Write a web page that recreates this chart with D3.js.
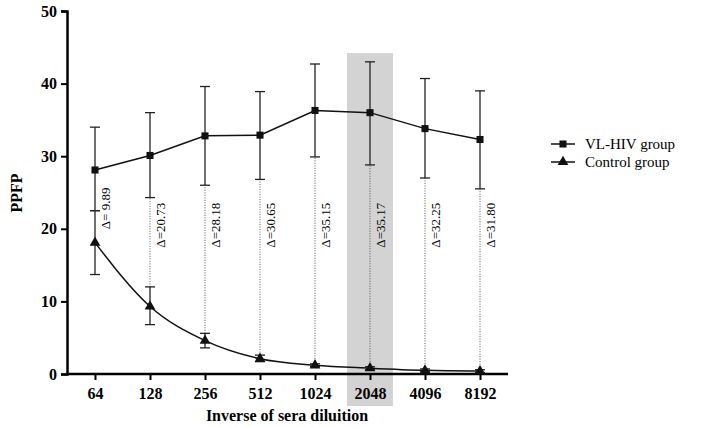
<!DOCTYPE html>
<html><head><meta charset="utf-8">
<script src="https://cdn.jsdelivr.net/npm/d3@7"></script>
<style>body{margin:0;background:#fff}text{font-family:"Liberation Serif",serif}</style>
</head><body><svg id="c" width="708" height="427"></svg>
<script>
const dilutions = ["64","128","256","512","1024","2048","4096","8192"];
const vlMean = [28.1, 30.1, 32.8, 32.9, 36.3, 36.0, 33.8, 32.3];
const vlLow  = [22.5, 24.3, 26.0, 26.8, 29.9, 28.8, 27.0, 25.5];
const vlHigh = [34.0, 36.0, 39.6, 38.9, 42.7, 43.0, 40.7, 39.0];
const ctMean = [18.1, 9.3, 4.6, 2.1, 1.2, 0.8, 0.5, 0.4];
const ctLow  = [13.7, 6.8, 3.6, 1.7, 1.0, 0.6, 0.3, 0.2];
const ctHigh = [22.5, 12.0, 5.6, 2.6, 1.4, 1.0, 0.7, 0.6];
const deltas = ["Δ= 9.89","Δ=20.73","Δ=28.18","Δ=30.65","Δ=35.15","Δ=35.17","Δ=32.25","Δ=31.80"];
const yTicks = [0,10,20,30,40,50];

const svg = d3.select("#c");
const x = d3.scalePoint().domain(dilutions).range([95, 480]);
const y = d3.scaleLinear().domain([0,50]).range([374, 11]);

// highlight band at 2048
svg.append("rect").attr("x", x("2048")-23).attr("width", 46)
  .attr("y", y(44.2)).attr("height", 406 - y(44.2)).attr("fill", "#d3d3d3");

// dotted connectors + delta labels
dilutions.forEach((d,i) => {
  svg.append("line").attr("x1", x(d)).attr("x2", x(d))
    .attr("y1", y(ctHigh[i])).attr("y2", y(vlLow[i]))
    .attr("stroke", "#555").attr("stroke-width", 1).attr("stroke-dasharray", "1,1.5");
  svg.append("text").attr("transform", `translate(${x(d)+15},${y(i === 0 ? 22.8 : 20.5)}) rotate(-90)`)
    .attr("text-anchor", "middle").attr("font-size", 13).text(deltas[i]);
});

// axes
const gy = svg.append("g").attr("transform", "translate(67,0)")
  .call(d3.axisLeft(y).tickValues(yTicks).tickSize(6).tickPadding(4));
const gx = svg.append("g").attr("transform", "translate(0,374)")
  .call(d3.axisBottom(x).tickSize(6).tickPadding(8));
gx.select(".domain").attr("d", "M67,0H508");
[gx, gy].forEach(g => {
  g.select(".domain").attr("stroke-width", 2.5);
  g.selectAll(".tick line").attr("stroke-width", 2);
  g.selectAll("text").attr("font-size", 16).attr("font-weight", "bold").attr("font-family", "Liberation Serif");
});

svg.append("text").attr("transform", "translate(22,193) rotate(-90)").attr("text-anchor", "middle")
  .attr("font-size", 16).attr("font-weight", "bold").text("PPFP");
svg.append("text").attr("x", 287).attr("y", 421).attr("text-anchor", "middle")
  .attr("font-size", 16).attr("font-weight", "bold").text("Inverse of sera diluition");

// error bars
function errBars(low, high) {
  dilutions.forEach((d,i) => {
    const g = svg.append("g").attr("stroke", "#222").attr("stroke-width", 1.3);
    g.append("line").attr("x1", x(d)).attr("x2", x(d)).attr("y1", y(low[i])).attr("y2", y(high[i]));
    [low[i], high[i]].forEach(v => g.append("line").attr("x1", x(d)-5).attr("x2", x(d)+5).attr("y1", y(v)).attr("y2", y(v)));
  });
}
errBars(vlLow, vlHigh);
errBars(ctLow, ctHigh);

const line = d3.line().x((v,i) => x(dilutions[i])).y(v => y(v)).curve(d3.curveMonotoneX);
svg.append("path").attr("d", d3.line().x((v,i) => x(dilutions[i])).y(v => y(v))(vlMean))
  .attr("fill", "none").attr("stroke", "#111").attr("stroke-width", 1.5);
svg.append("path").attr("d", line(ctMean)).attr("fill", "none").attr("stroke", "#111").attr("stroke-width", 1.5);

const sq = d3.symbol().type(d3.symbolSquare).size(50);
const tri = d3.symbol().type(d3.symbolTriangle).size(50);
svg.selectAll(".vl").data(vlMean).join("path")
  .attr("transform", (v,i) => `translate(${x(dilutions[i])},${y(v)})`).attr("d", sq).attr("fill", "#111");
svg.selectAll(".ct").data(ctMean).join("path")
  .attr("transform", (v,i) => `translate(${x(dilutions[i])},${y(v)})`).attr("d", tri).attr("fill", "#111");

// legend
const leg = [["VL-HIV group", sq], ["Control group", tri]];
leg.forEach(([name, sym], i) => {
  const ly = 144 + i*18;
  svg.append("line").attr("x1", 551).attr("x2", 575).attr("y1", ly).attr("y2", ly).attr("stroke", "#111").attr("stroke-width", 1.5);
  svg.append("path").attr("transform", `translate(563,${ly})`).attr("d", sym).attr("fill", "#111");
  svg.append("text").attr("x", 585).attr("y", ly + 5).attr("font-size", 15).text(name);
});
</script></body></html>
